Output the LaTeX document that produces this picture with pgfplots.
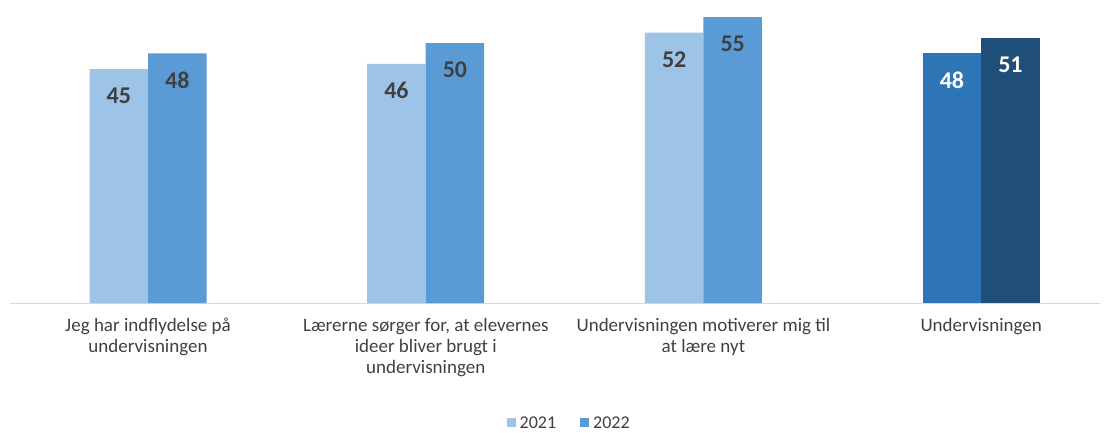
\documentclass[border=0pt]{standalone}
\usepackage{pgfplots}
\pgfplotsset{compat=1.18}
\usepackage{fontspec}
\setmainfont{Carlito}
\definecolor{cA}{HTML}{9DC3E6}
\definecolor{cB}{HTML}{5B9BD5}
\definecolor{cC}{HTML}{2E75B6}
\definecolor{cD}{HTML}{1F4E79}
\definecolor{txt}{HTML}{404040}
\definecolor{axl}{HTML}{D9D9D9}
\begin{document}
\begin{tikzpicture}
\path[use as bounding box] (0,0) rectangle (1110pt,432pt);
\begin{axis}[
  at={(10pt,129pt)}, anchor=south west,
  scale only axis, width=1090pt, height=303pt,
  xmin=-0.497, xmax=3.428, ymin=0, ymax=58.27,
  axis y line=none, axis x line=bottom,
  x axis line style={-, draw=axl, line width=1pt},
  xtick={0,1,2,3}, major tick length=0pt,
  xticklabels={{Jeg har indflydelse på\\undervisningen},{Lærerne sørger for, at elevernes\\ideer bliver brugt i\\undervisningen},{Undervisningen motiverer mig til\\at lære nyt},{Undervisningen}},
  xticklabel style={align=center, font=\fontsize{19}{21}\selectfont, text=txt, yshift=-12pt},
  /pgf/number format/assume math mode=true,
  nodes near coords,
  every node near coord/.append style={anchor=center, yshift=-27pt, font=\fontsize{24}{24}\selectfont\bfseries},
  legend style={at={(0.513,-0.396)}, anchor=center, draw=none, legend columns=2, font=\fontsize{18}{20}\selectfont, text=txt, /tikz/every even column/.append style={column sep=22pt}, /tikz/every odd column/.append style={column sep=2pt}},
  legend image code/.code={\fill[#1] (0pt,-4.5pt) rectangle (9pt,4.5pt);},
]
\addplot[ybar, bar width=58.5pt, bar shift=-29.25pt, fill=cA, draw=none, every node near coord/.append style={text=txt, xshift=-29.25pt}] coordinates {(0,45) (1,46) (2,52)};
\addlegendentry{2021}
\addplot[ybar, bar width=58.5pt, bar shift=29.25pt, fill=cB, draw=none, every node near coord/.append style={text=txt, xshift=29.25pt}] coordinates {(0,48) (1,50) (2,55)};
\addlegendentry{2022}
\addplot[ybar, bar width=58.5pt, bar shift=-29.25pt, fill=cC, draw=none, every node near coord/.append style={text=white, xshift=-29.25pt}, forget plot] coordinates {(3,48)};
\addplot[ybar, bar width=58.5pt, bar shift=29.25pt, fill=cD, draw=none, every node near coord/.append style={text=white, xshift=29.25pt}, forget plot] coordinates {(3,51)};
\end{axis}
\end{tikzpicture}
\end{document}
